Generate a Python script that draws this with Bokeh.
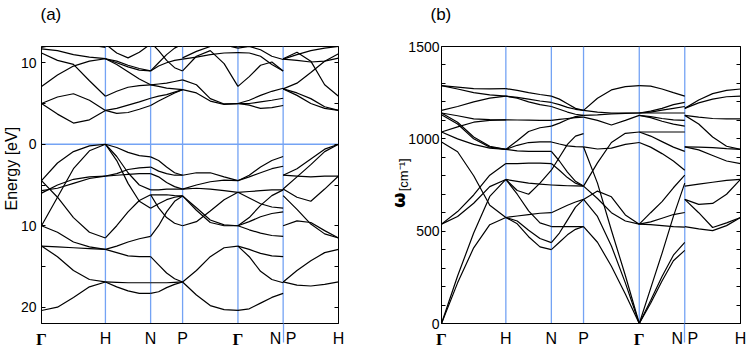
import json
import numpy as np
from bokeh.plotting import figure
from bokeh.layouts import row
from bokeh.models import (Span, Label, FixedTicker, LinearAxis, Range1d, CustomJSTickFormatter)
from bokeh.embed import file_html
from bokeh.resources import INLINE

# ---------------- high-symmetry path (BCC) ----------------
k_nodes = [0.0, 1.0, 1.707, 2.207, 3.073, 3.780, 4.646]
k_names = ["Γ", "H", "N", "P", "Γ", "N P", "H"]
k_break = 3.780          # N|P discontinuity

# ---------------- panel (a): electronic bands [eV], 5 samples per segment ----------------
elec_GH = [
    [5.0, 3.7, 2.6, 3.0, 4.15], [5.0, 5.8, 6.2, 5.4, 4.15], [7.1, 8.5, 9.6, 10.2, 10.5],
    [11.2, 10.3, 9.8, 7.8, 5.9], [11.7, 11.5, 11.0, 10.7, 10.5], [11.9, 12.3, 12.5, 12.2, 11.9],
    [-4.47, -2.3, -0.9, -0.2, 0.0], [-10.0, -6.5, -3.0, -0.8, 0.0], [-6.0, -5.0, -4.3, -4.0, -3.9],
    [-5.7, -5.4, -4.8, -4.2, -3.9], [-4.47, -6.5, -9.0, -10.8, -11.5], [-10.0, -10.8, -12.0, -12.6, -12.9],
    [-12.5, -12.6, -12.7, -12.8, -12.9], [-12.5, -13.8, -15.5, -16.6, -16.9], [-20.4, -20.0, -18.8, -17.5, -16.9],
]
elec_HN = [
    [4.15, 3.8, 3.9, 4.3, 4.76], [4.15, 4.4, 4.8, 5.2, 5.65], [5.9, 6.5, 7.0, 7.2, 7.3],
    [10.5, 10.0, 9.5, 9.1, 9.0], [10.5, 9.8, 8.9, 8.0, 7.3], [10.5, 10.2, 9.7, 9.3, 9.0],
    [12.3, 11.2, 10.6, 11.3, 12.3],
    [0.0, -0.4, -1.0, -1.4, -1.55], [0.0, -1.5, -3.5, -5.0, -5.6], [0.0, -2.0, -4.8, -7.0, -7.85],
    [-3.9, -3.6, -3.1, -2.9, -2.8], [-3.9, -3.8, -3.7, -3.6, -3.6], [-11.5, -10.0, -8.3, -6.9, -6.2],
    [-12.9, -12.5, -12.0, -11.6, -11.3], [-12.9, -13.3, -13.7, -13.8, -13.8],
    [-16.9, -16.95, -17.0, -17.0, -17.0], [-16.9, -17.5, -18.0, -18.3, -18.3],
]
elec_NP = [
    [4.76, 5.3, 5.8, 6.3, 6.7], [5.65, 5.9, 6.1, 6.4, 6.7], [7.3, 7.4, 7.5, 7.7, 7.9],
    [7.3, 7.1, 6.9, 6.8, 6.7], [9.0, 9.6, 10.0, 10.3, 10.45], [9.0, 10.0, 11.0, 11.8, 12.3],
    [12.5, 11.5, 10.3, 9.4, 9.0],
    [-1.55, -2.0, -2.8, -3.5, -3.8], [-2.8, -3.3, -3.6, -3.8, -3.8], [-3.6, -4.0, -4.7, -5.2, -5.5],
    [-5.6, -5.6, -5.5, -5.5, -5.5], [-6.2, -6.2, -6.2, -6.3, -6.34], [-7.85, -7.3, -6.8, -6.5, -6.34],
    [-11.3, -10.0, -8.3, -7.0, -6.34], [-6.2, -7.8, -9.0, -9.7, -10.0], [-13.8, -14.8, -15.8, -16.5, -16.9],
    [-17.0, -17.0, -17.0, -16.95, -16.9], [-18.3, -18.1, -17.6, -17.2, -16.9],
]
elec_PG = [
    [9.0, 10.8, 11.5, 9.9, 7.1], [7.9, 7.3, 5.6, 4.95, 5.0], [6.7, 6.3, 5.3, 4.9, 5.0],
    [10.45, 10.7, 11.0, 11.2, 11.26], [10.6, 11.4, 12.0, 12.2, 11.8],
    [-3.8, -3.5, -3.5, -4.0, -4.47], [-5.5, -5.0, -4.6, -4.4, -4.47], [-5.5, -5.4, -5.5, -5.7, -5.9],
    [-6.34, -7.8, -9.3, -9.9, -10.0], [-6.34, -8.1, -9.6, -10.0, -10.0], [-10.0, -9.5, -8.2, -6.8, -5.9],
    [-16.9, -15.5, -13.8, -12.7, -12.5], [-16.9, -18.5, -19.8, -20.3, -20.4],
]
elec_GN = [
    [7.1, 8.3, 9.7, 10.1, 9.0], [11.26, 11.2, 10.8, 9.8, 9.0], [11.8, 12.0, 11.6, 10.8, 10.4],
    [5.0, 4.8, 4.4, 4.5, 4.76], [5.0, 5.0, 5.2, 5.4, 5.65], [5.0, 5.4, 6.0, 6.5, 6.87],
    [-4.47, -3.8, -2.8, -2.0, -1.5], [-4.47, -4.0, -3.5, -3.0, -2.7], [-5.9, -5.8, -5.7, -5.6, -5.6],
    [-5.9, -6.6, -7.3, -7.7, -7.85], [-10.0, -9.0, -7.5, -6.3, -5.6], [-10.0, -9.5, -8.9, -8.5, -8.3],
    [-10.0, -10.5, -10.9, -11.2, -11.3], [-12.5, -12.9, -13.4, -13.7, -13.8],
    [-12.5, -13.8, -15.6, -16.6, -17.0], [-20.4, -20.2, -19.5, -18.8, -18.3],
]
elec_PH = [
    [10.45, 10.3, 10.1, 10.2, 10.57], [10.5, 11.3, 10.2, 7.3, 5.9], [10.45, 11.0, 11.5, 11.8, 12.0],
    [6.8, 6.0, 5.0, 4.4, 4.15], [6.8, 6.3, 5.6, 4.6, 4.15], [6.8, 7.5, 8.8, 10.2, 11.1],
    [-3.8, -3.0, -1.8, -0.6, 0.0], [-5.5, -4.0, -2.5, -0.9, 0.0], [-3.8, -3.9, -4.0, -3.9, -3.9],
    [-5.5, -6.5, -7.0, -5.5, -3.9], [-6.3, -8.0, -9.8, -11.0, -11.5], [-10.0, -9.4, -9.6, -10.6, -11.5],
    [-16.9, -15.5, -14.3, -13.3, -12.9], [-16.9, -17.3, -17.4, -17.2, -16.9],
]

# ---------------- panel (b): phonon branches [cm^-1], 5 samples per segment ----------------
phon_GH = [
    [0, 220, 410, 535, 574], [0, 257, 490, 688, 780], [538, 579, 651, 741, 780],
    [538, 606, 696, 803, 866], [983, 930, 800, 640, 574], [1037, 1000, 970, 950, 943],
    [1037, 1065, 1090, 1100, 1103], [1130, 1080, 1000, 955, 943], [1140, 1090, 1010, 960, 943],
    [1140, 1125, 1108, 1104, 1103], [1154, 1175, 1200, 1220, 1231], [1288, 1270, 1250, 1238, 1231],
    [1288, 1280, 1272, 1270, 1272],
]
phon_HN = [
    [574, 540, 470, 415, 400], [574, 555, 505, 460, 438], [574, 582, 590, 597, 600],
    [780, 700, 610, 545, 525], [780, 770, 760, 755, 750], [780, 720, 700, 760, 830],
    [866, 866, 868, 868, 866], [943, 935, 932, 932, 932], [943, 965, 980, 983, 983],
    [943, 990, 1040, 1060, 1069], [1103, 1102, 1101, 1100, 1100], [1231, 1225, 1215, 1205, 1197],
    [1231, 1220, 1200, 1185, 1175], [1272, 1262, 1250, 1240, 1231],
]
phon_NP = [
    [400, 440, 480, 510, 525], [438, 490, 560, 630, 672], [525, 525, 525, 525, 525],
    [600, 620, 640, 658, 672], [750, 748, 746, 745, 744], [866, 830, 790, 760, 744],
    [830, 900, 970, 1015, 1028], [932, 880, 820, 770, 744], [983, 972, 962, 958, 956],
    [1069, 1085, 1105, 1120, 1127], [1100, 1105, 1110, 1115, 1118], [1175, 1160, 1145, 1133, 1127],
    [1197, 1185, 1170, 1160, 1154], [1231, 1215, 1190, 1165, 1154],
]
phon_PG = [
    [525, 440, 310, 160, 0], [672, 580, 420, 220, 0], [956, 760, 505, 260, 0],
    [672, 717, 686, 588, 538], [744, 677, 600, 555, 538], [744, 870, 980, 1030, 1037],
    [956, 945, 950, 970, 980], [1118, 1100, 1075, 1100, 1127], [1127, 1130, 1135, 1138, 1140],
    [1154, 1145, 1140, 1140, 1140], [1154, 1220, 1265, 1283, 1288],
]
phon_GN = [
    [0, 110, 230, 340, 396], [0, 125, 255, 370, 439], [0, 190, 380, 580, 760],
    [538, 550, 570, 590, 601], [538, 535, 530, 525, 522], [538, 600, 660, 735, 803],
    [980, 955, 920, 880, 830], [1037, 1037, 1037, 1037, 1037], [1037, 1015, 985, 955, 932],
    [1127, 1115, 1095, 1080, 1069], [1127, 1120, 1110, 1103, 1100], [1140, 1140, 1140, 1140, 1140],
    [1140, 1145, 1155, 1165, 1175], [1140, 1150, 1165, 1185, 1197], [1288, 1285, 1270, 1250, 1231],
]
phon_PH = [
    [525, 512, 503, 530, 574], [672, 600, 520, 545, 574], [672, 645, 650, 700, 780],
    [744, 755, 765, 775, 780], [956, 940, 910, 880, 866], [956, 955, 952, 947, 943],
    [1127, 1080, 1010, 960, 943], [1127, 1118, 1110, 1108, 1108], [1165, 1195, 1215, 1228, 1231],
    [1165, 1210, 1245, 1262, 1270],
]

elec_segments = [elec_GH, elec_HN, elec_NP, elec_PG, elec_GN, elec_PH]
phon_segments = [phon_GH, phon_HN, phon_NP, phon_PG, phon_GN, phon_PH]

BLUE = "#74a3f4"
SANS = "Liberation Sans"
SERIF = "Liberation Serif"
H = 351


def make_panel(segments, yr, ticks, fmt_code, width, border_l, border_r, standoff):
    p = figure(width=width, height=H, output_backend="svg", toolbar_location=None,
               x_range=Range1d(k_nodes[0], k_nodes[-1]), y_range=Range1d(*yr),
               min_border_left=border_l, min_border_right=border_r,
               min_border_top=46, min_border_bottom=27)
    p.grid.visible = False
    p.outline_line_color = "black"
    p.outline_line_width = 1

    # y axes (labels left, inward ticks on both sides)
    ax = p.yaxis[0]
    ax.ticker = FixedTicker(ticks=ticks)
    ax.formatter = CustomJSTickFormatter(code=fmt_code)
    ax.major_tick_in = 4
    ax.major_tick_out = 0
    ax.minor_tick_line_color = None
    ax.axis_line_color = "black"
    ax.major_label_standoff = standoff
    ax.major_label_text_font = SANS
    ax.major_label_text_font_size = "14px"
    ax.major_label_text_color = "black"
    rax = LinearAxis(ticker=FixedTicker(ticks=ticks), major_tick_in=4, major_tick_out=0,
                     minor_tick_line_color=None, major_label_text_font_size="0px",
                     axis_line_color="black")
    p.add_layout(rax, "right")

    # x axis 1: H / N / P labels in sans; blue minor tick continues the N|P line
    other = [(k, n) for k, n in zip(k_nodes, k_names) if n != "Γ"]
    xa = p.xaxis[0]
    xa.ticker = FixedTicker(ticks=[k for k, _ in other], minor_ticks=[k_break])
    xa.formatter = CustomJSTickFormatter(code="return %s[index];" % json.dumps([n for _, n in other]))
    xa.major_tick_in = 0
    xa.major_tick_out = 0
    xa.minor_tick_in = 0
    xa.minor_tick_out = 19
    xa.minor_tick_line_color = BLUE
    xa.minor_tick_line_width = 1.3
    xa.axis_line_color = "black"
    xa.major_label_standoff = -13
    xa.major_label_text_font = SANS
    xa.major_label_text_font_size = "16px"
    xa.major_label_text_color = "black"

    # x axis 2: Γ labels in bold serif, pulled up to the same row
    gam = [k for k, n in zip(k_nodes, k_names) if n == "Γ"]
    ga = LinearAxis(ticker=FixedTicker(ticks=gam), formatter=CustomJSTickFormatter(code="return 'Γ';"),
                    major_tick_in=0, major_tick_out=0, minor_tick_line_color=None,
                    axis_line_color=None, major_label_standoff=-20,
                    major_label_text_font=SERIF, major_label_text_font_style="bold",
                    major_label_text_font_size="17px", major_label_text_color="black")
    p.add_layout(ga, "below")

    for k in k_nodes[1:-1]:
        p.add_layout(Span(location=k, dimension="height", line_color=BLUE,
                          line_width=1.3, level="underlay"))

    for i, seg in enumerate(segments):
        k0, k1 = k_nodes[i], k_nodes[i + 1]
        xs = [list(np.linspace(k0, k1, len(b))) for b in seg]
        p.multi_line(xs, [list(b) for b in seg], line_color="black", line_width=1.2)
    return p


# panel (a): frame x 39..338, y 46..324
pa = make_panel(elec_segments, (-22, 12), [-20, -15, -10, -5, 0, 5, 10],
                "return (tick % 10 == 0) ? Math.abs(tick).toString() : '';",
                345, 39, 7, 5)
pa.add_layout(Span(location=0, dimension="width", line_color=BLUE, line_width=1.3, level="underlay"))
pa.add_layout(Label(x=0, y=12, x_offset=-1, y_offset=32.5, text="(a)", text_align="left",
                    text_baseline="middle", text_font=SANS, text_font_size="17px",
                    text_color="black"), "above")
pa.add_layout(Label(x=0, y=-3.0, x_offset=-39, text="Energy [eV]", angle=np.pi / 2,
                    text_align="center", text_baseline="top", text_font=SANS,
                    text_font_size="16px", text_color="black"), "left")

# panel (b): frame x 441..740, y 46..324
pb = make_panel(phon_segments, (0, 1500), list(range(0, 1501, 100)),
                "return (tick % 500 == 0) ? tick.toString() : '';",
                402, 96, 7, 2)
pb.add_layout(Label(x=0, y=1500, x_offset=-11, y_offset=32.5, text="(b)", text_align="left",
                    text_baseline="middle", text_font=SANS, text_font_size="17px",
                    text_color="black"), "above")
pb.add_layout(Label(x=0, y=668, x_offset=-54, text="ω", angle=np.pi / 2,
                    text_align="center", text_baseline="top", text_font="DejaVu Sans",
                    text_font_style="bold", text_font_size="18px", text_color="black"), "left")
pb.add_layout(Label(x=0, y=805, x_offset=-46, text="[cm⁻¹]", angle=np.pi / 2,
                    text_align="center", text_baseline="top", text_font=SANS,
                    text_font_size="13px", text_color="black"), "left")

layout = row(pa, pb)
open("out.html", "w").write(file_html(layout, INLINE))
